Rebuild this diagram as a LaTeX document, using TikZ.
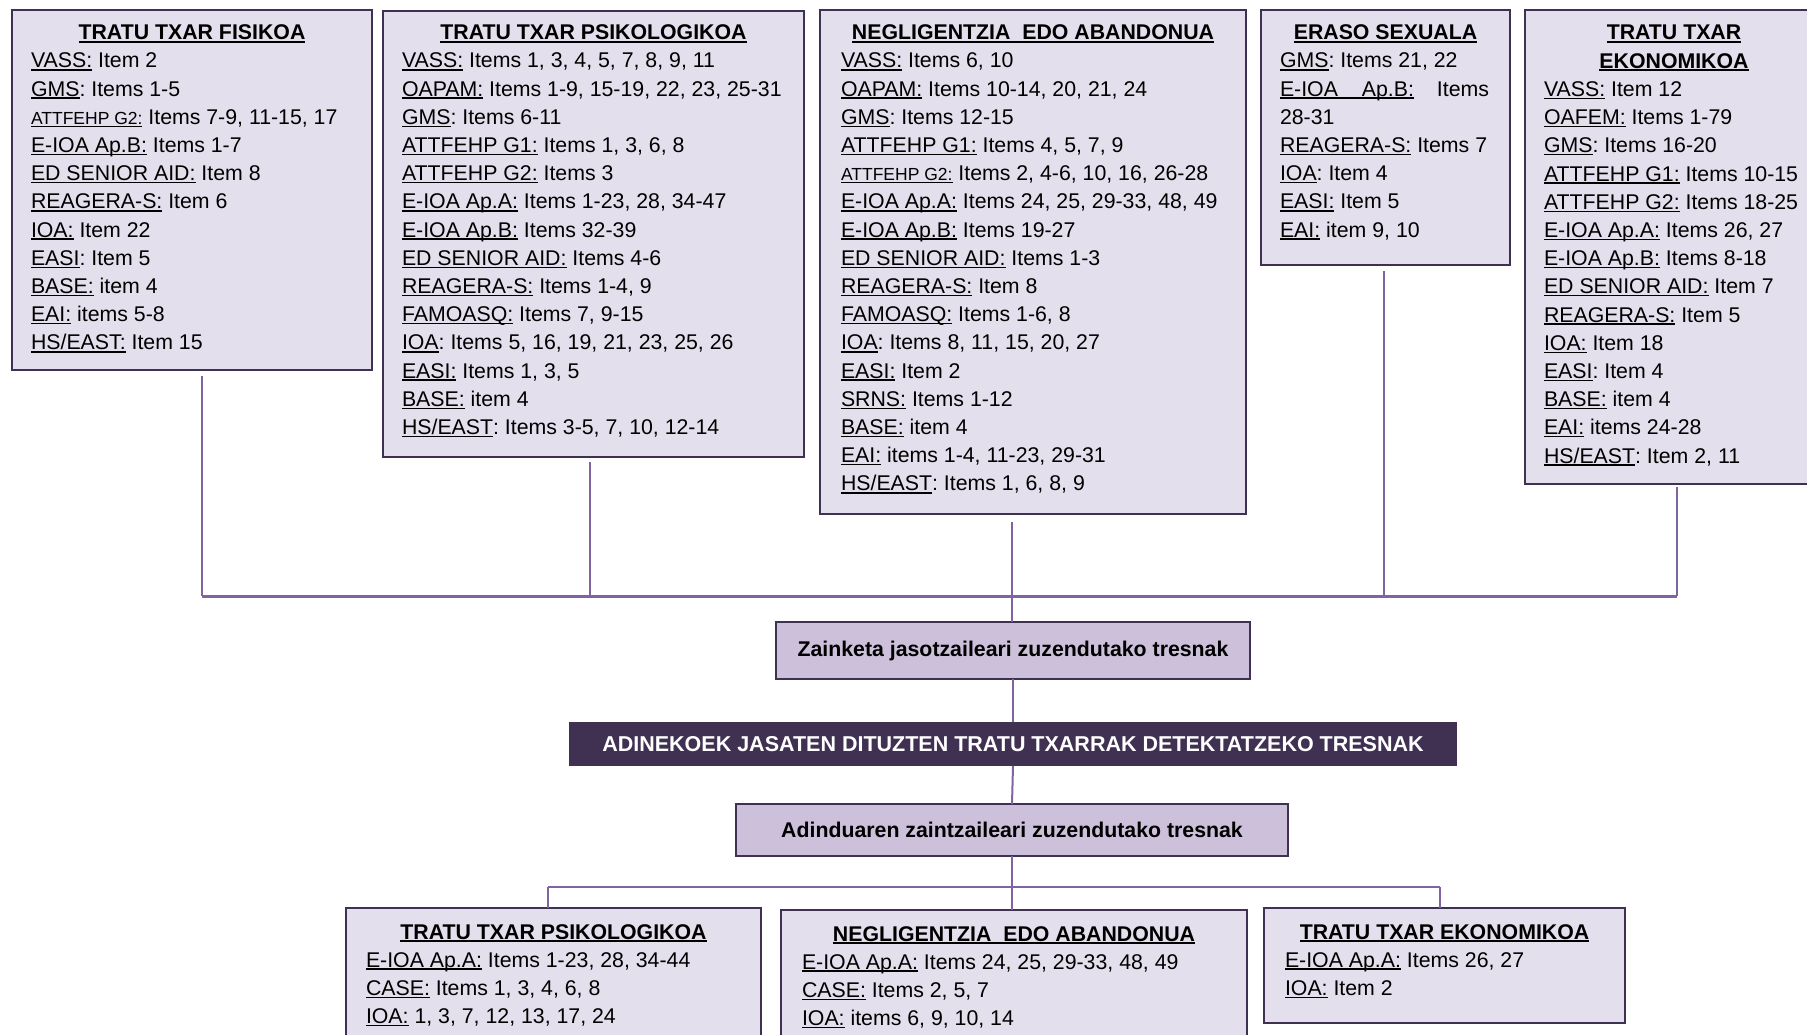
\documentclass[tikz,border=0pt]{standalone}
\usepackage{fontspec}
\setmainfont{Liberation Sans}
\frenchspacing
\definecolor{boxfill}{HTML}{E4DFEC}
\definecolor{boxline}{HTML}{3F3151}
\definecolor{midfill}{HTML}{CCC0DA}
\definecolor{darkfill}{HTML}{403152}
\definecolor{connc}{HTML}{8064A2}
\newsavebox\ulbox
\newcommand\ulk[1]{\sbox\ulbox{#1}\rlap{\rule[-2.6pt]{\wd\ulbox}{1.3pt}}\usebox\ulbox}
\newcommand\ult[1]{\sbox\ulbox{#1}\rlap{\rule[-3.2pt]{\wd\ulbox}{2pt}}\usebox\ulbox}
\newcommand\smk[1]{{\fontsize{17.5}{20}\selectfont #1}}
\newcommand\lst[1]{\begin{tabular}[t]{@{}l@{}}#1\end{tabular}}
\tikzset{
  catbox/.style={draw=boxline, line width=2pt, fill=boxfill, inner sep=0pt, outer sep=0pt, anchor=north west},
  midbox/.style={draw=boxline, line width=2pt, fill=midfill, inner sep=0pt, outer sep=0pt, font=\bfseries\fontsize{21.3}{25}\selectfont},
  mainbox/.style={fill=darkfill, text=white, inner sep=0pt, outer sep=0pt, font=\bfseries\fontsize{21.5}{25}\selectfont},
  txt/.style={inner sep=0pt, outer sep=0pt, anchor=base west, font=\fontsize{21.3}{28.2}\selectfont},
  ttl/.style={inner sep=0pt, outer sep=0pt, anchor=base, font=\bfseries\fontsize{21.3}{28.2}\selectfont},
  link/.style={draw=connc, line width=2pt},
  buslink/.style={draw=connc, line width=3pt}
}
\begin{document}
\begin{tikzpicture}[x=1pt,y=-1pt]
\useasboundingbox (0,0) rectangle (1807,1035);
\clip (0,0) rectangle (1807,1035);
% ---------- connector coordinates
\coordinate (d1) at (202,376); \coordinate (k1) at (202,596);
\coordinate (d2) at (590,462); \coordinate (k2) at (590,596);
\coordinate (d3) at (1012,522);
\coordinate (d4) at (1384,271); \coordinate (k4) at (1384,596);
\coordinate (d5) at (1677,487); \coordinate (k5) at (1677,596);
\coordinate (q1) at (548,887); \coordinate (q3) at (1440,887);
% ---------- boxes
\node[catbox, minimum width=360.5pt, minimum height=360pt] (b1) at (11.5,10) {};
\node[catbox, minimum width=421pt, minimum height=446pt] (b2) at (383,11) {};
\node[catbox, minimum width=426pt, minimum height=504pt] (b3) at (820,10) {};
\node[catbox, minimum width=249pt, minimum height=255pt] (b4) at (1261,10) {};
\node[catbox, minimum width=298pt, minimum height=474pt] (b5) at (1525,10) {};
\node[midbox, minimum width=474pt, minimum height=57pt] (z) at (1013,650.5) {Zainketa jasotzaileari zuzendutako tresnak};
\node[mainbox, minimum width=888pt, minimum height=44pt] (m) at (1013,744) {ADINEKOEK JASATEN DITUZTEN TRATU TXARRAK DETEKTATZEKO TRESNAK};
\node[midbox, minimum width=552pt, minimum height=52pt] (a) at (1012,830) {Adinduaren zaintzaileari zuzendutako tresnak};
\node[catbox, minimum width=415pt, minimum height=152pt] (c1) at (346,908) {};
\node[catbox, minimum width=466pt, minimum height=150pt] (c2) at (781,910) {};
\node[catbox, minimum width=361pt, minimum height=115pt] (c3) at (1264,908) {};
% ---------- connectors
\draw[link] (d1) -- (k1);
\draw[link] (d2) -- (k2);
\draw[link] (d4) -- (k4);
\draw[link] (d5) -- (k5);
\draw[buslink] (k1) -- (k5);
\draw[link] (d3) -- (d3 |- z.north);
\draw[link] (z.south) -- (m.north);
\draw[link] (m.south) -- (a.north);
\draw[link] (a.south) -- (a.south |- q1);
\draw[link] (q1) -- (q3);
\draw[link] (q1) -- (q1 |- c1.north);
\draw[link] (a.south |- q1) -- (a.south |- c2.north);
\draw[link] (q3) -- (q3 |- c3.north);
% ---------- titles
\node[ttl] (t1) at (192,40) {\ult{TRATU TXAR FISIKOA}};
\node[ttl] (t2) at (593.5,40) {\ult{TRATU TXAR PSIKOLOGIKOA}};
\node[ttl] (t3) at (1033,40) {\ult{NEGLIGENTZIA~ EDO ABANDONUA}};
\node[ttl] (t4) at (1385.5,40) {\ult{ERASO SEXUALA}};
\node[ttl] (t5) at (1674,40) {\begin{tabular}[t]{@{}c@{}}\ult{TRATU TXAR}\\\ult{EKONOMIKOA}\end{tabular}};
\node[ttl] (u1) at (553.5,939) {\ult{TRATU TXAR PSIKOLOGIKOA}};
\node[ttl] (u2) at (1014,941) {\ult{NEGLIGENTZIA~ EDO ABANDONUA}};
\node[ttl] (u3) at (1444.5,939) {\ult{TRATU TXAR EKONOMIKOA}};
% ---------- item lists
\node[txt] (l1) at (31,68) {\lst{%
\ulk{VASS:} Item 2\\
\ulk{GMS}: Items 1-5\\
\ulk{\smk{ATTFEHP G2:}} Items 7-9, 11-15, 17\\
\ulk{E-IOA Ap.B:} Items 1-7\\
\ulk{ED SENIOR AID:} Item 8\\
\ulk{REAGERA-S:} Item 6\\
\ulk{IOA:} Item 22\\
\ulk{EASI}: Item 5\\
\ulk{BASE:} item 4\\
\ulk{EAI:} items 5-8\\
\ulk{HS/EAST:} Item 15}};
\node[txt] (l2) at (402,68) {\lst{%
\ulk{VASS:} Items 1, 3, 4, 5, 7, 8, 9, 11\\
\ulk{OAPAM:} Items 1-9, 15-19, 22, 23, 25-31\\
\ulk{GMS}: Items 6-11\\
\ulk{ATTFEHP G1:} Items 1, 3, 6, 8\\
\ulk{ATTFEHP G2:} Items 3\\
\ulk{E-IOA Ap.A:} Items 1-23, 28, 34-47\\
\ulk{E-IOA Ap.B:} Items 32-39\\
\ulk{ED SENIOR AID:} Items 4-6\\
\ulk{REAGERA-S:} Items 1-4, 9\\
\ulk{FAMOASQ:} Items 7, 9-15\\
\ulk{IOA}: Items 5, 16, 19, 21, 23, 25, 26\\
\ulk{EASI:} Items 1, 3, 5\\
\ulk{BASE:} item 4\\
\ulk{HS/EAST}: Items 3-5, 7, 10, 12-14}};
\node[txt] (l3) at (841,68) {\lst{%
\ulk{VASS:} Items 6, 10\\
\ulk{OAPAM:} Items 10-14, 20, 21, 24\\
\ulk{GMS}: Items 12-15\\
\ulk{ATTFEHP G1:} Items 4, 5, 7, 9\\
\ulk{\smk{ATTFEHP G2:}} Items 2, 4-6, 10, 16, 26-28\\
\ulk{E-IOA Ap.A:} Items 24, 25, 29-33, 48, 49\\
\ulk{E-IOA Ap.B:} Items 19-27\\
\ulk{ED SENIOR AID:} Items 1-3\\
\ulk{REAGERA-S:} Item 8\\
\ulk{FAMOASQ:} Items 1-6, 8\\
\ulk{IOA}: Items 8, 11, 15, 20, 27\\
\ulk{EASI:} Item 2\\
\ulk{SRNS:} Items 1-12\\
\ulk{BASE:} item 4\\
\ulk{EAI:} items 1-4, 11-23, 29-31\\
\ulk{HS/EAST}: Items 1, 6, 8, 9}};
\node[txt] (l4) at (1280,68) {\lst{%
\ulk{GMS}: Items 21, 22\\
\hbox to 209pt{\ulk{\hbox to 134pt{E-IOA\hfil Ap.B:}}\hfil Items}\\
28-31\\
\ulk{REAGERA-S:} Items 7\\
\ulk{IOA}: Item 4\\
\ulk{EASI:} Item 5\\
\ulk{EAI:} item 9, 10}};
\node[txt] (l5) at (1544,96.5) {\lst{%
\ulk{VASS:} Item 12\\
\ulk{OAFEM:} Items 1-79\\
\ulk{GMS}: Items 16-20\\
\ulk{ATTFEHP G1:} Items 10-15\\
\ulk{ATTFEHP G2:} Items 18-25\\
\ulk{E-IOA Ap.A:} Items 26, 27\\
\ulk{E-IOA Ap.B:} Items 8-18\\
\ulk{ED SENIOR AID:} Item 7\\
\ulk{REAGERA-S:} Item 5\\
\ulk{IOA:} Item 18\\
\ulk{EASI}: Item 4\\
\ulk{BASE:} item 4\\
\ulk{EAI:} items 24-28\\
\ulk{HS/EAST}: Item 2, 11}};
\node[txt] (m1) at (366,967) {\lst{%
\ulk{E-IOA Ap.A:} Items 1-23, 28, 34-44\\
\ulk{CASE:} Items 1, 3, 4, 6, 8\\
\ulk{IOA:} 1, 3, 7, 12, 13, 17, 24}};
\node[txt] (m2) at (802,969) {\lst{%
\ulk{E-IOA Ap.A:} Items 24, 25, 29-33, 48, 49\\
\ulk{CASE:} Items 2, 5, 7\\
\ulk{IOA:} items 6, 9, 10, 14}};
\node[txt] (m3) at (1285,967) {\lst{%
\ulk{E-IOA Ap.A:} Items 26, 27\\
\ulk{IOA:} Item 2}};
\end{tikzpicture}
\end{document}
